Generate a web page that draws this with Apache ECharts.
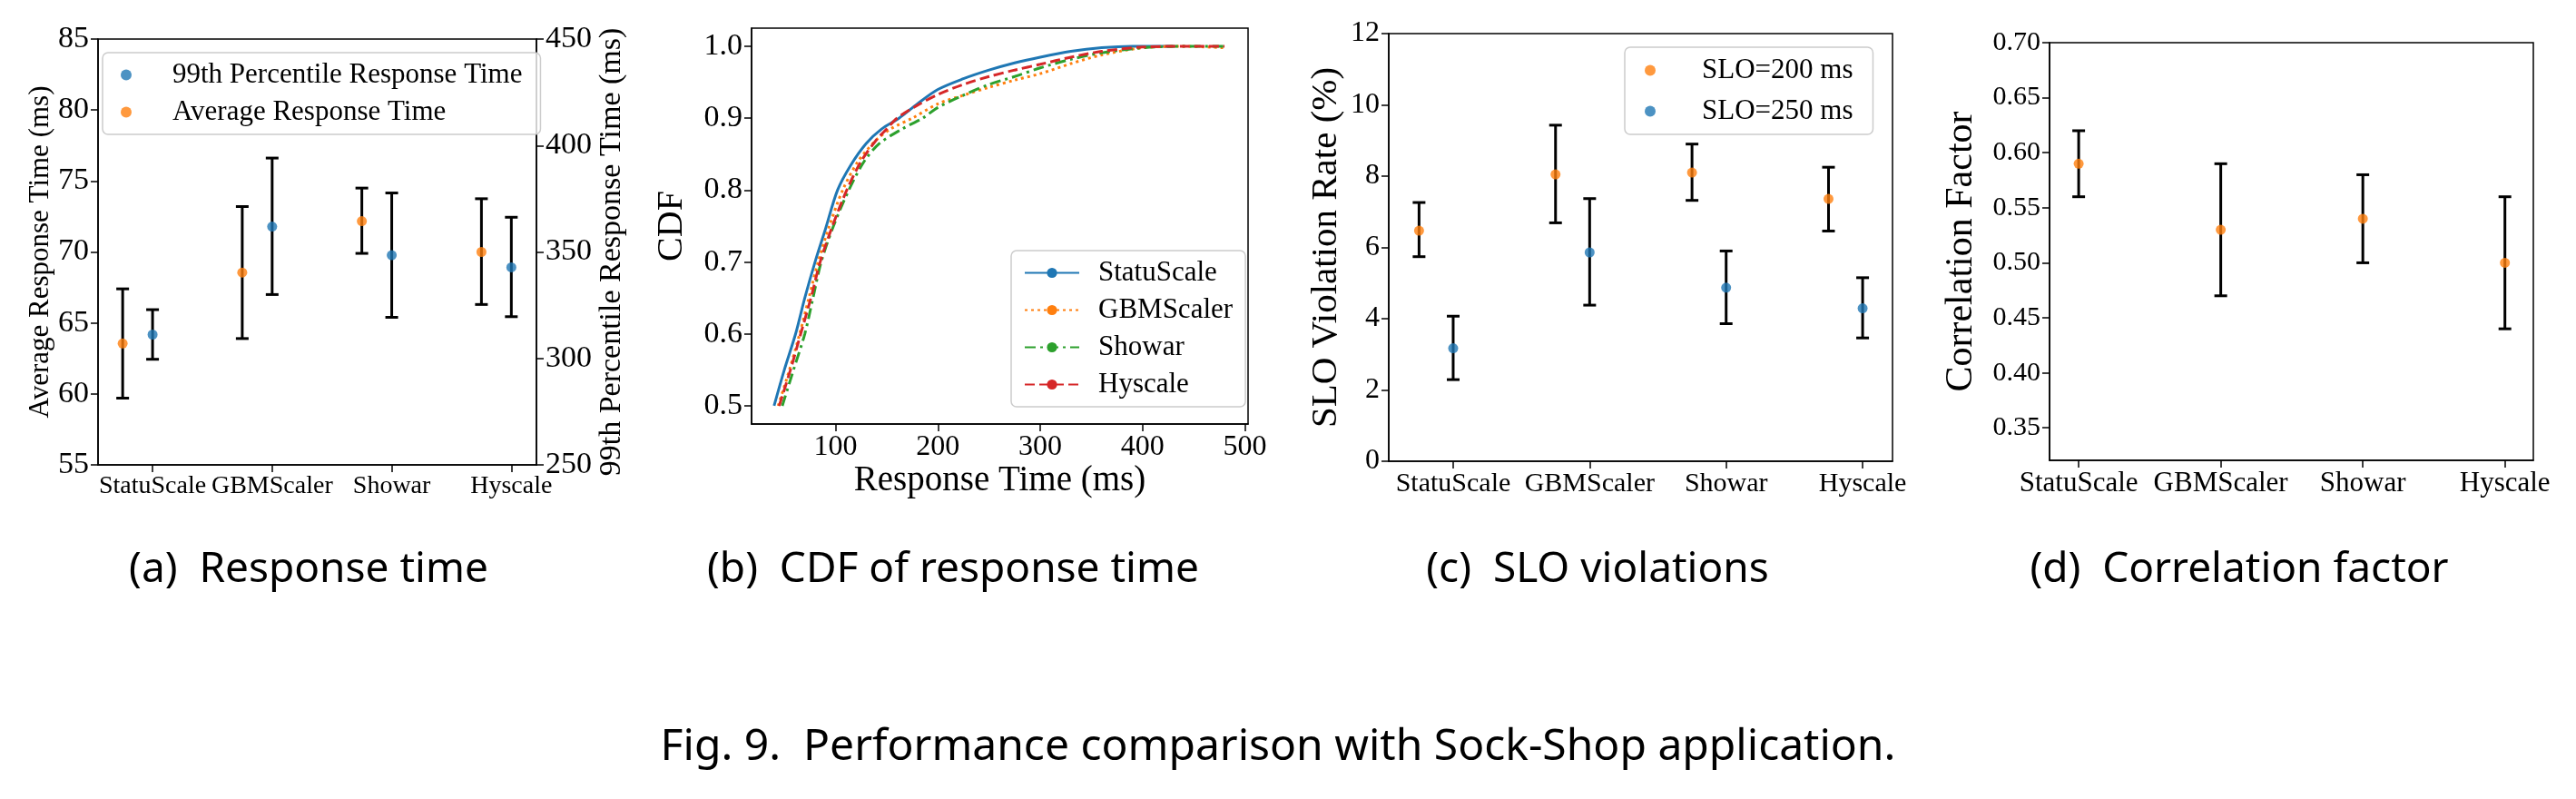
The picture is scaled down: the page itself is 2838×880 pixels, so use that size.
<!DOCTYPE html>
<html>
<head>
<meta charset="utf-8">
<script src="https://cdn.jsdelivr.net/npm/echarts@6/dist/echarts.min.js"></script>
<style>html,body{margin:0;padding:0;background:#fff}#main{width:2838px;height:880px}</style>
</head>
<body>
<div id="main"></div>
<script>
var categories = ["StatuScale", "GBMScaler", "Showar", "Hyscale"];

// (a) response time
var avgMean = [63.55, 68.55, 72.17, 70.0];
var avgLow = [59.7, 63.9, 69.9, 66.3];
var avgHigh = [67.4, 73.2, 74.5, 73.75];
var p99Mean = [311.2, 361.9, 348.5, 342.8];
var p99Low = [299.6, 330.0, 319.3, 319.6];
var p99High = [322.9, 394.1, 377.7, 366.3];

// (b) CDF of response time
var cdfStatu = [[40, 0.5], [50, 0.55], [61, 0.6], [70, 0.65], [80, 0.7], [90, 0.745], [102, 0.8], [115, 0.835], [130, 0.865], [145, 0.885], [162, 0.9], [180, 0.92], [200, 0.94], [225, 0.955], [250, 0.967], [275, 0.977], [300, 0.985], [330, 0.993], [360, 0.998], [390, 1.0], [430, 1.0]];
var cdfGBM = [[44, 0.5], [55, 0.55], [65, 0.6], [74, 0.65], [83, 0.7], [94, 0.75], [107, 0.8], [122, 0.84], [140, 0.87], [155, 0.886], [175, 0.9], [200, 0.92], [225, 0.932], [250, 0.943], [275, 0.953], [300, 0.962], [330, 0.976], [360, 0.988], [400, 0.998], [440, 1.0], [480, 0.998]];
var cdfShowar = [[48, 0.5], [59, 0.55], [70, 0.6], [78, 0.65], [86, 0.7], [98, 0.75], [113, 0.8], [128, 0.84], [143, 0.865], [165, 0.885], [185, 0.9], [200, 0.915], [225, 0.932], [250, 0.947], [275, 0.958], [300, 0.97], [330, 0.982], [360, 0.991], [400, 0.998], [440, 1.0], [480, 1.0]];
var cdfHy = [[45, 0.5], [56, 0.55], [66, 0.6], [76, 0.65], [85, 0.7], [97, 0.75], [111, 0.8], [125, 0.84], [140, 0.87], [150, 0.885], [160, 0.9], [180, 0.918], [200, 0.933], [225, 0.947], [250, 0.958], [275, 0.967], [300, 0.975], [330, 0.985], [360, 0.993], [400, 0.999], [440, 1.0], [480, 1.0]];

// (c) SLO violations
var slo200Mean = [6.47, 8.05, 8.1, 7.36];
var slo200Low = [5.74, 6.69, 7.32, 6.46];
var slo200High = [7.26, 9.43, 8.9, 8.25];
var slo250Mean = [3.17, 5.86, 4.87, 4.29];
var slo250Low = [2.29, 4.38, 3.86, 3.46];
var slo250High = [4.07, 7.37, 5.9, 5.15];

// (d) correlation factor
var corrMean = [0.59, 0.53, 0.54, 0.50];
var corrLow = [0.56, 0.47, 0.50, 0.44];
var corrHigh = [0.62, 0.59, 0.58, 0.56];

var BLUE = "#1f77b4", ORANGE = "#ff7f0e", GREEN = "#2ca02c", RED = "#d62728";
var SERIF = "Liberation Serif";

function pts(mean, off) {
  return mean.map(function (v, i) { return [i + off, v]; });
}
function bars(low, high, off) {
  return low.map(function (v, i) { return [i + off, v, high[i]]; });
}
function errRender(params, api) {
  var x = api.value(0);
  var a = api.coord([x, api.value(1)]);
  var b = api.coord([x, api.value(2)]);
  var w = 7;
  var st = { stroke: "#000", lineWidth: 3 };
  return {
    type: "group",
    children: [
      { type: "line", shape: { x1: a[0], y1: a[1], x2: b[0], y2: b[1] }, style: st },
      { type: "line", shape: { x1: a[0] - w, y1: a[1], x2: a[0] + w, y2: a[1] }, style: st },
      { type: "line", shape: { x1: b[0] - w, y1: b[1], x2: b[0] + w, y2: b[1] }, style: st },
    ],
  };
}
function errSeries(xi, yi, data) {
  return { type: "custom", xAxisIndex: xi, yAxisIndex: yi, renderItem: errRender, data: data, encode: { x: 0, y: [1, 2] }, z: 1, silent: true };
}
function dotSeries(name, xi, yi, data, color) {
  return { name: name, type: "scatter", xAxisIndex: xi, yAxisIndex: yi, data: data, symbolSize: 11, itemStyle: { color: color }, z: 3 };
}
function catAxis(gi, min, max, fs) {
  return {
    type: "value", gridIndex: gi, min: min, max: max, splitLine: { show: false },
    axisLine: { onZero: false, lineStyle: { color: "#000", width: 1.5 } },
    axisTick: { customValues: [0, 1, 2, 3], length: 8, lineStyle: { color: "#000", width: 1.5 } },
    axisLabel: { customValues: [0, 1, 2, 3], hideOverlap: false, formatter: function (v) { return categories[Math.round(v)]; }, fontFamily: SERIF, fontSize: fs, color: "#000", margin: 10 },
  };
}
function valAxis(gi, opt) {
  var ax = {
    type: "value", gridIndex: gi, splitLine: { show: false },
    axisLine: { show: true, onZero: false, lineStyle: { color: "#000", width: 1.5 } },
    axisTick: { show: true, length: 8, lineStyle: { color: "#000", width: 1.5 } },
    axisLabel: { fontFamily: SERIF, fontSize: 34, color: "#000", margin: 10 },
    nameLocation: "middle",
    nameTextStyle: { fontFamily: SERIF, fontSize: 32, color: "#000" },
  };
  for (var k in opt) {
    if (typeof opt[k] === "object" && ax[k] && !Array.isArray(opt[k])) {
      for (var j in opt[k]) ax[k][j] = opt[k][j];
    } else ax[k] = opt[k];
  }
  return ax;
}

var chart = echarts.init(document.getElementById("main"));
var gridBase = { show: true, borderColor: "#000", borderWidth: 1.5, backgroundColor: "#fff" };
function grid(l, t, w, h) { return Object.assign({ left: l, top: t, width: w, height: h }, gridBase); }

var legendText = { fontFamily: SERIF, fontSize: 31, color: "#000" };
var legendBox = { orient: "vertical", borderColor: "#ccc", borderWidth: 1.5, borderRadius: 6, backgroundColor: "rgba(255,255,255,0.8)" };

var option = {
  animation: false,
  backgroundColor: "#fff",
  grid: [grid(108, 43, 483, 469), grid(828, 31, 547, 436), grid(1530, 37, 555, 471), grid(2258, 47, 533, 460)],
  xAxis: [
    catAxis(0, -0.456, 3.21, 28),
    valAxis(1, {
      min: 18, max: 503, name: "Response Time (ms)", nameGap: 42,
      nameTextStyle: { fontSize: 39 },
      axisTick: { customValues: [100, 200, 300, 400, 500] },
      axisLabel: { customValues: [100, 200, 300, 400, 500], fontSize: 32 },
    }),
    catAxis(2, -0.472, 3.219, 30),
    catAxis(3, -0.205, 3.2, 31),
  ],
  yAxis: [
    valAxis(0, { min: 55, max: 85, interval: 5, name: "Average Response Time (ms)", nameGap: 48, nameTextStyle: { fontSize: 31 } }),
    valAxis(0, { min: 250, max: 450, interval: 50, position: "right", name: "99th Percentile Response Time (ms)", nameGap: 66, nameTextStyle: { fontSize: 34 } }),
    valAxis(1, {
      min: 0.4747, max: 1.0253, name: "CDF", nameGap: 68, nameTextStyle: { fontSize: 40 },
      axisTick: { customValues: [0.5, 0.6, 0.7, 0.8, 0.9, 1.0] },
      axisLabel: { customValues: [0.5, 0.6, 0.7, 0.8, 0.9, 1.0], fontSize: 34, formatter: function (v) { return v.toFixed(1); } },
    }),
    valAxis(2, { min: 0, max: 12, interval: 2, name: "SLO Violation Rate (%)", nameGap: 48, nameTextStyle: { fontSize: 41 }, axisLabel: { fontSize: 32 } }),
    valAxis(3, {
      min: 0.3205, max: 0.70, name: "Correlation Factor", nameGap: 76, nameTextStyle: { fontSize: 42 },
      axisTick: { customValues: [0.35, 0.4, 0.45, 0.5, 0.55, 0.6, 0.65, 0.7] },
      axisLabel: { customValues: [0.35, 0.4, 0.45, 0.5, 0.55, 0.6, 0.65, 0.7], fontSize: 30, formatter: function (v) { return v.toFixed(2); } },
    }),
  ],
  legend: [
    Object.assign({
      data: ["99th Percentile Response Time", "Average Response Time"],
      left: 113, top: 58, padding: [9, 20], itemGap: 10, itemWidth: 40, itemHeight: 12,
      textStyle: Object.assign({ padding: [0, 0, 0, 26] }, legendText),
    }, legendBox),
    Object.assign({
      data: ["StatuScale", "GBMScaler", "Showar", "Hyscale"],
      left: 1114, top: 276, padding: [9, 14], itemGap: 10, itemWidth: 60, itemHeight: 14,
      textStyle: Object.assign({ padding: [0, 0, 0, 16] }, legendText),
    }, legendBox),
    Object.assign({
      data: ["SLO=200 ms", "SLO=250 ms"],
      left: 1790, top: 52, padding: [10, 22], itemGap: 14, itemWidth: 40, itemHeight: 12,
      textStyle: Object.assign({ padding: [0, 0, 0, 32] }, legendText),
    }, legendBox),
  ],
  series: [
    errSeries(0, 0, bars(avgLow, avgHigh, -0.25)),
    errSeries(0, 1, bars(p99Low, p99High, 0)),
    dotSeries("Average Response Time", 0, 0, pts(avgMean, -0.25), ORANGE),
    dotSeries("99th Percentile Response Time", 0, 1, pts(p99Mean, 0), BLUE),

    { name: "StatuScale", type: "line", xAxisIndex: 1, yAxisIndex: 2, data: cdfStatu, smooth: 0.3, showSymbol: false, symbol: "none", lineStyle: { color: BLUE, width: 3 }, itemStyle: { color: BLUE } },
    { name: "GBMScaler", type: "line", xAxisIndex: 1, yAxisIndex: 2, data: cdfGBM, smooth: 0.3, showSymbol: false, symbol: "none", lineStyle: { color: ORANGE, width: 3, type: [3, 4] }, itemStyle: { color: ORANGE } },
    { name: "Showar", type: "line", xAxisIndex: 1, yAxisIndex: 2, data: cdfShowar, smooth: 0.3, showSymbol: false, symbol: "none", lineStyle: { color: GREEN, width: 3, type: [12, 5, 3, 5] }, itemStyle: { color: GREEN } },
    { name: "Hyscale", type: "line", xAxisIndex: 1, yAxisIndex: 2, data: cdfHy, smooth: 0.3, showSymbol: false, symbol: "none", lineStyle: { color: RED, width: 3, type: [11, 5] }, itemStyle: { color: RED } },

    errSeries(2, 3, bars(slo200Low, slo200High, -0.25)),
    errSeries(2, 3, bars(slo250Low, slo250High, 0)),
    dotSeries("SLO=200 ms", 2, 3, pts(slo200Mean, -0.25), ORANGE),
    dotSeries("SLO=250 ms", 2, 3, pts(slo250Mean, 0), BLUE),

    errSeries(3, 4, bars(corrLow, corrHigh, 0)),
    dotSeries("Correlation", 3, 4, pts(corrMean, 0), ORANGE),
  ],
  graphic: [
    { type: "text", x: 340, y: 628, style: { text: "(a)  Response time", font: "46px 'Noto Sans'", fill: "#000", textAlign: "center", textVerticalAlign: "middle" } },
    { type: "text", x: 1050, y: 628, style: { text: "(b)  CDF of response time", font: "46px 'Noto Sans'", fill: "#000", textAlign: "center", textVerticalAlign: "middle" } },
    { type: "text", x: 1760, y: 628, style: { text: "(c)  SLO violations", font: "46px 'Noto Sans'", fill: "#000", textAlign: "center", textVerticalAlign: "middle" } },
    { type: "text", x: 2467, y: 628, style: { text: "(d)  Correlation factor", font: "46px 'Noto Sans'", fill: "#000", textAlign: "center", textVerticalAlign: "middle" } },
    { type: "text", x: 1408, y: 823, style: { text: "Fig. 9.  Performance comparison with Sock-Shop application.", font: "48px 'Noto Sans'", fill: "#000", textAlign: "center", textVerticalAlign: "middle" } },
  ],
};
chart.setOption(option);
</script>
</body>
</html>
